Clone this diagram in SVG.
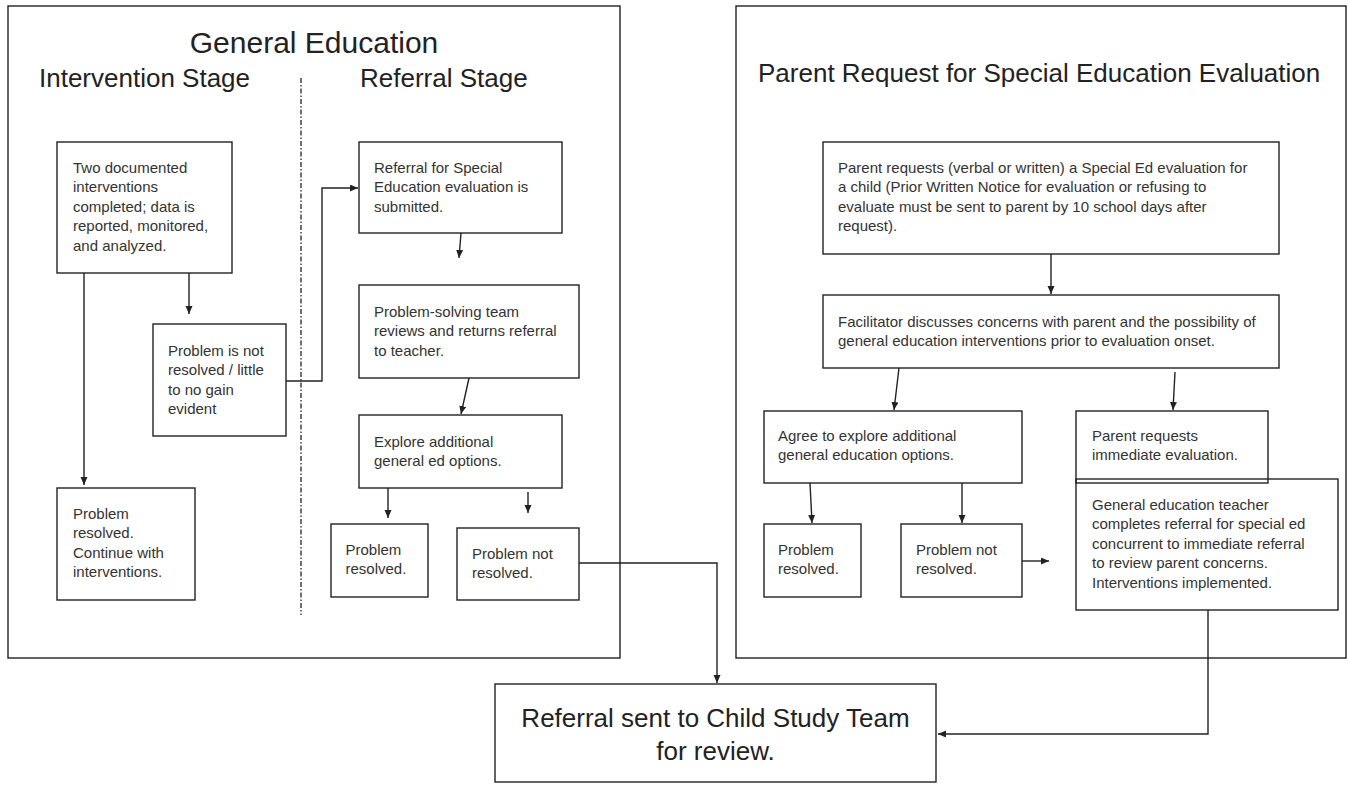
<svg xmlns="http://www.w3.org/2000/svg" width="1348" height="785" viewBox="0 0 1348 785">
<defs>
<style>
.panel{fill:none;stroke:#222;stroke-width:1.4}
.box{fill:none;stroke:#222;stroke-width:1.4}
.t{font-family:"Liberation Sans",Arial,sans-serif;font-size:15px;fill:#333}
.title{font-family:"Liberation Sans",Arial,sans-serif;font-size:26px;fill:#222}
.big{font-family:"Liberation Sans",Arial,sans-serif;font-size:30px;fill:#222}
.conn{fill:none;stroke:#222;stroke-width:1.4}
.arr{marker-end:url(#ah)}
.divider{stroke:#333;stroke-width:1.4;stroke-dasharray:5 2 1.5 2;fill:none}
</style>
<marker id="ah" markerUnits="userSpaceOnUse" markerWidth="9" markerHeight="8" refX="8" refY="3.5" orient="auto">
<path d="M0,0 L8,3.5 L0,7 z" fill="#222"/>
</marker>
</defs>
<rect width="1348" height="785" fill="#fff"/>

<g id="panel-general-education">
<rect class="panel" x="8" y="6" width="612" height="652"/>
<text class="big" x="314" y="53" text-anchor="middle">General Education</text>
<text class="title" x="39" y="87">Intervention Stage</text>
<text class="title" x="360" y="87">Referral Stage</text>
<line class="divider" x1="301" y1="78" x2="301" y2="615"/>
</g>

<g id="panel-parent-request">
<rect class="panel" x="736" y="6" width="610" height="652"/>
<text class="title" x="758" y="82">Parent Request for Special Education Evaluation</text>
</g>

<g id="node-two-interventions">
<rect class="box" x="57" y="142" width="175" height="131"/>
<text class="t" x="73" y="173"><tspan x="73">Two documented</tspan><tspan x="73" dy="19.4">interventions</tspan><tspan x="73" dy="19.4">completed; data is</tspan><tspan x="73" dy="19.4">reported, monitored,</tspan><tspan x="73" dy="19.4">and analyzed.</tspan></text>
</g>

<g id="node-not-resolved-little-gain">
<rect class="box" x="153" y="324" width="133" height="112"/>
<text class="t" x="168" y="356"><tspan x="168">Problem is not</tspan><tspan x="168" dy="19.4">resolved / little</tspan><tspan x="168" dy="19.4">to no gain</tspan><tspan x="168" dy="19.4">evident</tspan></text>
</g>

<g id="node-problem-resolved-continue">
<rect class="box" x="57" y="488" width="138" height="112"/>
<text class="t" x="73" y="519"><tspan x="73">Problem</tspan><tspan x="73" dy="19.4">resolved.</tspan><tspan x="73" dy="19.4">Continue with</tspan><tspan x="73" dy="19.4">interventions.</tspan></text>
</g>

<g id="node-referral-submitted">
<rect class="box" x="359" y="142" width="203" height="91"/>
<text class="t" x="374" y="173"><tspan x="374">Referral for Special</tspan><tspan x="374" dy="19.4">Education evaluation is</tspan><tspan x="374" dy="19.4">submitted.</tspan></text>
</g>

<g id="node-problem-solving-team">
<rect class="box" x="359" y="285" width="220" height="93"/>
<text class="t" x="374" y="317"><tspan x="374">Problem-solving team</tspan><tspan x="374" dy="19.4">reviews and returns referral</tspan><tspan x="374" dy="19.4">to teacher.</tspan></text>
</g>

<g id="node-explore-options">
<rect class="box" x="359" y="415" width="203" height="73"/>
<text class="t" x="374" y="447"><tspan x="374">Explore additional</tspan><tspan x="374" dy="19.4">general ed options.</tspan></text>
</g>

<g id="node-left-problem-resolved">
<rect class="box" x="331" y="524" width="97" height="73"/>
<text class="t" x="345.5" y="555"><tspan x="345.5">Problem</tspan><tspan x="345.5" dy="19.4">resolved.</tspan></text>
</g>

<g id="node-left-problem-not-resolved">
<rect class="box" x="457" y="528" width="122" height="72"/>
<text class="t" x="472" y="559"><tspan x="472">Problem not</tspan><tspan x="472" dy="19.4">resolved.</tspan></text>
</g>

<g id="node-parent-requests-eval">
<rect class="box" x="823" y="142" width="456" height="112"/>
<text class="t" x="838" y="173"><tspan x="838">Parent requests (verbal or written) a Special Ed evaluation for</tspan><tspan x="838" dy="19.4">a child (Prior Written Notice for evaluation or refusing to</tspan><tspan x="838" dy="19.4">evaluate must be sent to parent by 10 school days after</tspan><tspan x="838" dy="19.4">request).</tspan></text>
</g>

<g id="node-facilitator">
<rect class="box" x="823" y="295" width="456" height="73"/>
<text class="t" x="838" y="327"><tspan x="838">Facilitator discusses concerns with parent and the possibility of</tspan><tspan x="838" dy="19.4">general education interventions prior to evaluation onset.</tspan></text>
</g>

<g id="node-agree-explore">
<rect class="box" x="764" y="411" width="258" height="72"/>
<text class="t" x="778" y="441"><tspan x="778">Agree to explore additional</tspan><tspan x="778" dy="19.4">general education options.</tspan></text>
</g>

<g id="node-parent-requests-immediate">
<rect class="box" x="1076" y="411" width="192" height="72"/>
<text class="t" x="1092" y="441"><tspan x="1092">Parent requests</tspan><tspan x="1092" dy="19.4">immediate evaluation.</tspan></text>
</g>

<g id="node-gen-ed-teacher">
<rect class="box" x="1076" y="479" width="262" height="131"/>
<text class="t" x="1092" y="510"><tspan x="1092">General education teacher</tspan><tspan x="1092" dy="19.4">completes referral for special ed</tspan><tspan x="1092" dy="19.4">concurrent to immediate referral</tspan><tspan x="1092" dy="19.4">to review parent concerns.</tspan><tspan x="1092" dy="19.4">Interventions implemented.</tspan></text>
</g>

<g id="node-right-problem-resolved">
<rect class="box" x="764" y="524" width="97" height="73"/>
<text class="t" x="778" y="555"><tspan x="778">Problem</tspan><tspan x="778" dy="19.4">resolved.</tspan></text>
</g>

<g id="node-right-problem-not-resolved">
<rect class="box" x="901" y="524" width="121" height="73"/>
<text class="t" x="916" y="555"><tspan x="916">Problem not</tspan><tspan x="916" dy="19.4">resolved.</tspan></text>
</g>

<g id="node-child-study-team">
<rect class="box" x="495" y="684" width="441" height="98"/>
<text class="title" x="715.5" y="727" text-anchor="middle">Referral sent to Child Study Team</text>
<text class="title" x="715.5" y="760" text-anchor="middle">for review.</text>
</g>

<g id="connectors">
<path class="conn arr" d="M189 273 V314"/>
<path class="conn arr" d="M84 273 V485"/>
<path class="conn arr" d="M286 381 H322 V188 H358"/>
<path class="conn arr" d="M461 233 L459 258"/>
<path class="conn arr" d="M469 378 L461 414"/>
<path class="conn arr" d="M388 488 V518"/>
<path class="conn arr" d="M528 492 V513"/>
<path class="conn arr" d="M579 563 H717 V683"/>
<path class="conn arr" d="M1051 254 V294"/>
<path class="conn arr" d="M899 368 L894 410"/>
<path class="conn arr" d="M1175 372 L1173 410"/>
<path class="conn arr" d="M810 483 L812 523"/>
<path class="conn arr" d="M962 483 V523"/>
<path class="conn arr" d="M1022 561 H1049"/>
<path class="conn arr" d="M1208 610 V734 H938"/>
</g>
</svg>
